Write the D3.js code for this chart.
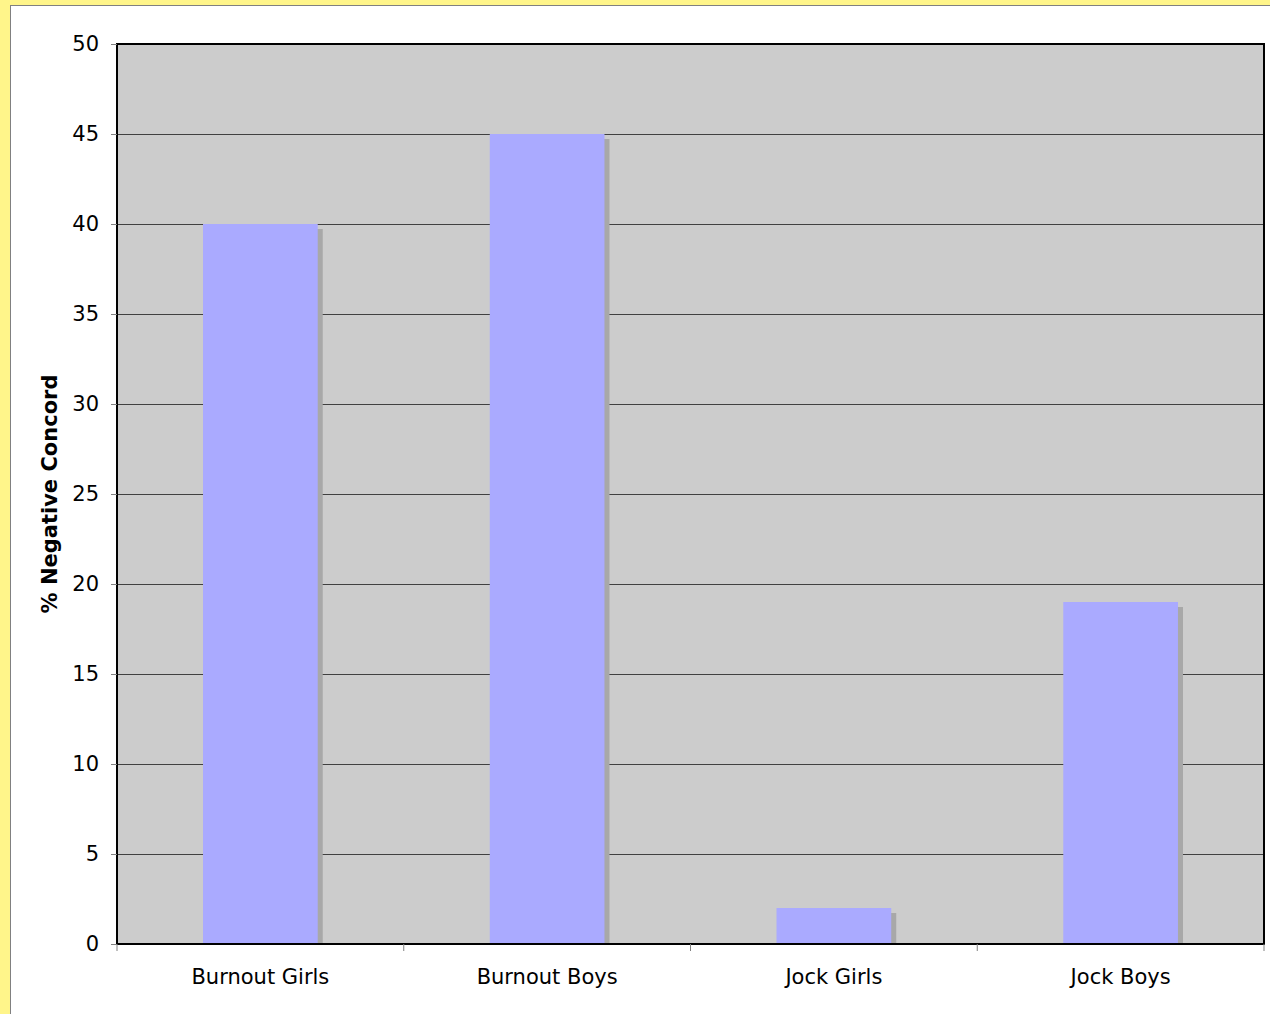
<!DOCTYPE html>
<html><head><meta charset="utf-8">
<script src="https://cdn.jsdelivr.net/npm/d3@7"></script>
<style>
html,body{margin:0;padding:0;background:#fff;}
svg{display:block;}
</style></head>
<body>
<script>
const categories = ["Burnout Girls","Burnout Boys","Jock Girls","Jock Boys"];
const values = [40, 45, 2, 19];
const yTicks = [0,5,10,15,20,25,30,35,40,45,50];
const yTitle = "% Negative Concord";

(function(){
const W = 1270, H = 1014;
const svg = d3.select("body").append("svg").attr("width", W).attr("height", H);
const font = "DejaVu Sans, Verdana, sans-serif";

svg.append("rect").attr("x",0).attr("y",0).attr("width",W).attr("height",H).attr("fill","#fff58a");
svg.append("rect").attr("x",10.5).attr("y",5.5).attr("width",W).attr("height",H).attr("fill","#ffffff").attr("stroke","#808080").attr("stroke-width",1);

const pL=117, pT=44, pR=1264, pB=944;
const x = d3.scaleBand().domain(categories).range([pL,pR]).paddingInner(0).paddingOuter(0);
const y = d3.scaleLinear().domain([0,50]).range([pB,pT]);

svg.append("rect").attr("x",pL).attr("y",pT).attr("width",pR-pL).attr("height",pB-pT).attr("fill","#cccccc");

svg.append("g").selectAll("line").data(yTicks.filter(d=>d>0&&d<50)).join("line")
  .attr("x1",pL).attr("x2",pR).attr("y1",d=>Math.round(y(d))+0.5).attr("y2",d=>Math.round(y(d))+0.5)
  .attr("stroke","#404040").attr("stroke-width",1);

const bw = x.bandwidth()*0.4;
const g = svg.append("g");
g.selectAll("rect.sh").data(values).join("rect").attr("class","sh")
  .attr("x",(d,i)=>x(categories[i])+x.bandwidth()/2-bw/2+5)
  .attr("y",d=>y(d)+5).attr("width",bw).attr("height",d=>pB-y(d)-5)
  .attr("fill","#a8a8a8");
g.selectAll("rect.bar").data(values).join("rect").attr("class","bar")
  .attr("x",(d,i)=>x(categories[i])+x.bandwidth()/2-bw/2)
  .attr("y",d=>y(d)).attr("width",bw).attr("height",d=>pB-y(d))
  .attr("fill","#aaaaff");

svg.append("rect").attr("x",pL).attr("y",pT).attr("width",pR-pL).attr("height",pB-pT)
  .attr("fill","none").attr("stroke","#000").attr("stroke-width",2);

const ya = d3.axisLeft(y).tickValues(yTicks).tickSize(6).tickPadding(12);
const yg = svg.append("g").attr("transform",`translate(${pL},0)`).call(ya);
yg.select(".domain").remove();
yg.selectAll(".tick line").attr("stroke","#808080");
yg.selectAll(".tick text").attr("font-family",font).attr("font-size",21).attr("fill","#000");

const xa = d3.axisBottom(x).tickSize(0).tickPadding(25);
const xg = svg.append("g").attr("transform",`translate(0,${pB})`).call(xa);
xg.select(".domain").remove();
xg.selectAll(".tick text").attr("font-family",font).attr("font-size",21).attr("fill","#000");
const bounds = categories.map(c=>x(c)).concat([pR]);
svg.append("g").selectAll("line").data(bounds).join("line")
  .attr("x1",d=>d).attr("x2",d=>d).attr("y1",pB).attr("y2",pB+7)
  .attr("stroke","#808080").attr("stroke-width",1);

svg.append("text").attr("transform",`translate(57,${(pT+pB)/2}) rotate(-90)`)
  .attr("text-anchor","middle").attr("font-family",font).attr("font-size",21).attr("font-weight","bold")
  .text(yTitle);
})();
</script>
</body></html>
